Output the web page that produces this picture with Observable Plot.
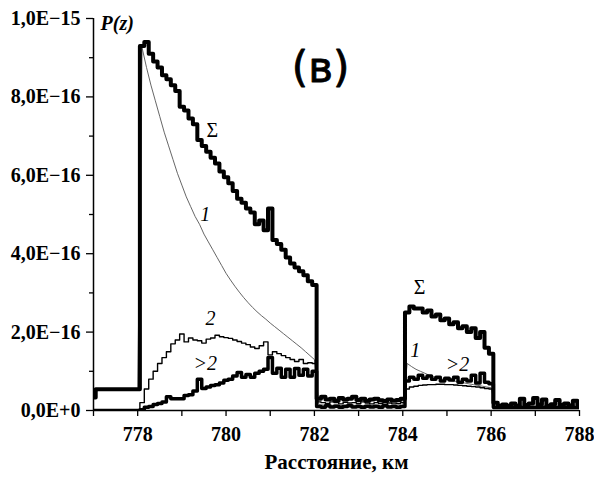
<!DOCTYPE html>
<html><head><meta charset="utf-8">
<script src="https://cdn.jsdelivr.net/npm/d3@7"></script>
<script src="https://cdn.jsdelivr.net/npm/@observablehq/plot@0.6"></script>
<style>body{margin:0;background:#fff}</style>
</head><body><div id="chart"></div>
<script>
// Histogram bins: bin i starts at 776.95 + 0.1*i km (values in units of 1e-16)
const binStart = 776.95, binWidth = 0.1;

const sigma = [
  0.33, 0.54,0.54,0.54,0.54,0.54,0.54,0.54,0.54,0.54,0.54,
  9.3,9.4,9.1,8.9,8.75,8.55,8.45,8.3,8.15,7.75,7.65,7.45,7.3,6.9,6.75,6.6,6.45,6.3,6.1,5.95,
  5.8,5.6,5.4,5.3,5.15,5.05,4.75,4.85,4.6,5.15,4.35,4.25,4.1,3.9,3.75,3.65,3.55,3.45,3.3,3.2,
  0.3,0.35,0.28,0.3,0.25,0.32,0.28,0.3,0.35,0.27,0.3,0.25,0.28,0.3,0.26,0.24,0.28,0.25,0.27,0.3,
  2.5,2.65,2.6,2.6,2.5,2.55,2.4,2.45,2.3,2.35,2.2,2.25,2.1,2.15,2.0,2.1,1.85,2.0,1.6,1.45,
  0.2,0.12,0.15,0.12,0.18,0.12,0.3,0.14,0.18,0.32,0.15,0.28,0.12,0.16,0.27,0.14,0.18,0.13,0.25,0.15
];
const one = [
  0.33, 0.54,0.54,0.54,0.54,0.54,0.54,0.54,0.54,0.54,0.54,
  9.25,8.75,8.3,7.9,7.5,7.1,6.75,6.4,6.05,5.75,5.45,5.2,4.95,4.75,4.5,4.3,4.1,3.9,3.7,3.5,
  3.33,3.17,3.02,2.88,2.75,2.63,2.52,2.42,2.33,2.23,2.14,2.05,1.96,1.87,1.78,1.69,1.6,1.5,1.4,1.3,
  0.15,0.14,0.16,0.13,0.15,0.12,0.14,0.16,0.13,0.15,0.12,0.14,0.13,0.15,0.12,0.14,0.13,0.12,0.14,0.13,
  1.2,1.12,1.05,1.0,0.95,0.9,0.86,0.82,0.8,0.78,0.76,0.74,0.72,0.7,0.68,0.66,0.64,0.62,0.6,0.58,
  0.06,0.06,0.06,0.06,0.06,0.06,0.06,0.06,0.06,0.06,0.06,0.06,0.06,0.06,0.06,0.06,0.06,0.06,0.06,0.06
];
const two = [
  0,0,0,0,0,0,0,0,0,0,0,
  0.2,0.55,0.8,1.0,1.2,1.35,1.5,1.7,1.8,1.95,1.75,1.85,1.8,1.78,1.72,1.82,1.85,1.92,1.88,1.86,
  1.84,1.8,1.76,1.72,1.68,1.62,1.58,1.65,1.75,1.42,1.5,1.45,1.4,1.35,1.3,1.25,1.3,1.2,1.22,1.2,
  0.22,0.2,0.18,0.22,0.2,0.17,0.21,0.19,0.2,0.18,0.22,0.19,0.17,0.2,0.18,0.16,0.19,0.17,0.18,0.2,
  0.55,0.6,0.62,0.64,0.65,0.66,0.66,0.67,0.67,0.66,0.66,0.65,0.64,0.63,0.62,0.61,0.6,0.58,0.56,0.55,
  0.05,0.05,0.05,0.05,0.05,0.05,0.05,0.05,0.05,0.05,0.05,0.05,0.05,0.05,0.05,0.05,0.05,0.05,0.05,0.05
];
const moreThanTwo = [
  0,0,0,0,0,0,0,0,0,0,0,
  0.02,0.08,0.1,0.15,0.18,0.22,0.35,0.3,0.3,0.3,0.38,0.4,0.5,0.8,0.56,0.6,0.64,0.66,0.7,0.77,
  0.8,0.88,0.97,0.85,0.92,0.85,0.95,1.0,1.05,1.35,0.95,1.08,0.85,1.05,0.85,1.07,0.9,1.05,0.88,1.0,
  0.1,0.08,0.12,0.09,0.11,0.08,0.1,0.12,0.09,0.1,0.08,0.11,0.09,0.1,0.08,0.12,0.09,0.1,0.08,0.1,
  0.75,0.85,0.8,0.9,0.82,0.88,0.8,0.85,0.75,0.82,0.78,0.85,0.72,0.8,0.75,0.9,0.7,0.95,0.72,0.68,
  0.08,0.08,0.08,0.08,0.08,0.08,0.08,0.08,0.08,0.08,0.08,0.08,0.08,0.08,0.08,0.08,0.08,0.08,0.08,0.08
];

const yMajorTicks = [0, 2, 4, 6, 8, 10];
const yMinorTicks = [1, 3, 5, 7, 9];
const xMajorTicks = [778, 780, 782, 784, 786, 788];
const xMinorTicks = [777, 779, 781, 783, 785, 787];
const yTickLabels = ["0,0E+0", "2,0E−16", "4,0E−16", "6,0E−16", "8,0E−16", "1,0E−15"];

const labelText = ["Σ", "1", "2", ">2", "Σ", "1", ">2"];
const labelX = [779.69, 779.53, 779.65, 779.53, 784.38, 784.28, 785.24];
const labelY = [7.14, 5.0, 2.35, 1.2, 3.14, 1.53, 1.17];
const labelItalic = [false, true, true, true, false, true, true];

function toSteps(vals) {
  const pts = vals.map((v, i) => ({x: binStart + binWidth * i, y: v}));
  pts.push({x: binStart + binWidth * vals.length, y: vals[vals.length - 1]});
  return pts;
}
function toCenters(vals) {
  return vals.map((v, i) => ({x: binStart + binWidth * (i + 0.5), y: v}));
}

const labels = labelText.map((t, i) => ({t, x: labelX[i], y: labelY[i], it: labelItalic[i]}));

const chart = Plot.plot({
  width: 594, height: 478,
  marginLeft: 93, marginRight: 15, marginTop: 18, marginBottom: 68,
  x: {domain: [777, 788]},
  y: {domain: [0, 10]},
  style: {fontFamily: "Liberation Serif", background: "white", color: "black"},
  marks: [
    Plot.axisY({ticks: yMajorTicks, tickSize: 7, tickPadding: 6, fontSize: 20, fontWeight: "bold",
      tickFormat: v => yTickLabels[yMajorTicks.indexOf(v)], label: null, stroke: "black", strokeWidth: 1.3}),
    Plot.axisY({ticks: yMinorTicks, tickSize: 4, tickFormat: () => "", label: null, strokeWidth: 1.3}),
    Plot.axisX({ticks: xMajorTicks, tickSize: 6, tickPadding: 10, fontSize: 20, fontWeight: "bold",
      tickFormat: d => String(d), label: null, strokeWidth: 1.3}),
    Plot.axisX({ticks: xMinorTicks, tickSize: 6, tickFormat: () => "", label: null, strokeWidth: 1.3}),
    Plot.ruleX([777], {stroke: "black", strokeWidth: 1.5}),
    Plot.ruleY([0], {stroke: "black", strokeWidth: 1.5}),
    Plot.line(toCenters(one), {x: "x", y: "y", curve: "linear", stroke: "#555", strokeWidth: 0.9, clip: true}),
    Plot.line(toSteps(two), {x: "x", y: "y", curve: "step-after", stroke: "black", strokeWidth: 1.4, clip: true}),
    Plot.line(toSteps(moreThanTwo), {x: "x", y: "y", curve: "step-after", stroke: "black", strokeWidth: 3.5, clip: true}),
    Plot.line(toSteps(sigma), {x: "x", y: "y", curve: "step-after", stroke: "black", strokeWidth: 4, clip: true}),
    Plot.text(labels.filter(d => !d.it), {x: "x", y: "y", text: "t", fontSize: 20, fill: "black"}),
    Plot.text(labels.filter(d => d.it), {x: "x", y: "y", text: "t", fontSize: 20, fontStyle: "italic", fill: "black"}),
    Plot.text(["(в)"], {x: [782.14], y: [8.72], text: d => d, fontSize: 42, fontFamily: "DejaVu Sans", fill: "black", stroke: "black", strokeWidth: 0.8}),
    Plot.text(["P(z)"], {x: [777.16], y: [9.88], text: d => d, fontSize: 20, fontStyle: "italic", fontWeight: "bold", textAnchor: "start", fill: "black"}),
    Plot.text(["Расстояние, км"], {frameAnchor: "bottom", dy: 58, text: d => d, fontSize: 21, fontWeight: "bold", fill: "black"})
  ]
});
document.getElementById("chart").appendChild(chart);
</script>
</body></html>
